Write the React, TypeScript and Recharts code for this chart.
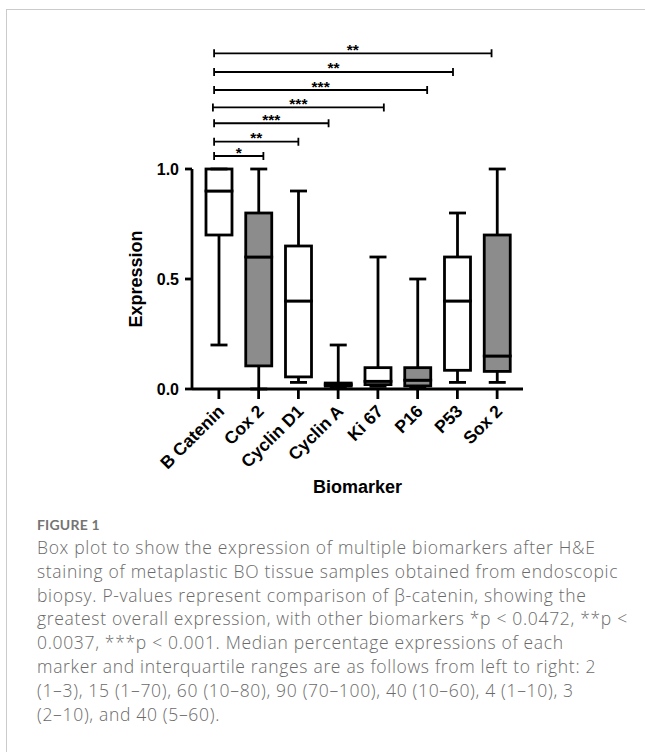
import React from 'react';
import {
  ComposedChart,
  Bar,
  XAxis,
  YAxis,
  ReferenceLine,
} from 'recharts';

// box plot values (fraction of cells expressing)
const categories = ['B Catenin', 'Cox 2', 'Cyclin D1', 'Cyclin A', 'Ki 67', 'P16', 'P53', 'Sox 2'];
const mins = [0.2, 0.0, 0.03, 0.005, 0.012, 0.005, 0.03, 0.03];
const q1s = [0.7, 0.105, 0.055, 0.013, 0.02, 0.014, 0.085, 0.08];
const medians = [0.9, 0.6, 0.4, 0.02, 0.035, 0.04, 0.4, 0.15];
const q3s = [1.0, 0.8, 0.65, 0.027, 0.097, 0.097, 0.6, 0.7];
const maxs = [1.0, 1.0, 0.9, 0.2, 0.6, 0.5, 0.8, 1.0];
const shaded = [false, true, false, false, false, true, false, true];

// significance brackets: B Catenin vs others (x in category index units, y in expression units)
const sigStarts = [-0.12, -0.12, -0.12, -0.15, -0.12, -0.12, -0.12];
const sigEnds = [6.86, 5.89, 5.24, 4.15, 2.76, 2.0, 1.12];
const sigLevels = [1.526, 1.441, 1.359, 1.28, 1.208, 1.124, 1.059];
const sigStars = ['**', '**', '***', '***', '***', '**', '*'];

const yTicks = [0, 0.5, 1.0];
const xTicks = categories.map((_, i) => i);

const caption = [
  'Box plot to show the expression of multiple biomarkers after H&E',
  'staining of metaplastic BO tissue samples obtained from endoscopic',
  'biopsy. P-values represent comparison of \u03b2-catenin, showing the',
  'greatest overall expression, with other biomarkers *p < 0.0472, **p <',
  '0.0037, ***p < 0.001. Median percentage expressions of each',
  'marker and interquartile ranges are as follows from left to right: 2',
  '(1\u20133), 15 (1\u201370), 60 (10\u201380), 90 (70\u2013100), 40 (10\u201360), 4 (1\u201310), 3',
  '(2\u201310), and 40 (5\u201360).',
];

const data = categories.map((name, i) => ({
  idx: i,
  name,
  base: mins[i],
  lowWhisker: q1s[i] - mins[i],
  lowBox: medians[i] - q1s[i],
  highBox: q3s[i] - medians[i],
  highWhisker: maxs[i] - q3s[i],
  fill: shaded[i] ? '#8c8c8c' : '#ffffff',
}));

const INK = '#000';
const SW = 2.8;
const CAP = 17;
const FONT = '"Liberation Sans", Arial, Helvetica, sans-serif';

const Whisker = (capAt: 'top' | 'bottom') => (props: any) => {
  const { x, y, width, height } = props;
  const cx = x + width / 2;
  const capY = capAt === 'top' ? y : y + height;
  return (
    <g>
      <line x1={cx} x2={cx} y1={y} y2={y + height} stroke={INK} strokeWidth={SW} />
      <line x1={cx - CAP / 2} x2={cx + CAP / 2} y1={capY} y2={capY} stroke={INK} strokeWidth={SW} />
    </g>
  );
};

const BoxPart = (props: any) => {
  const { x, y, width, height, payload } = props;
  return (
    <rect
      x={x}
      y={y}
      width={width}
      height={Math.max(height, 0)}
      fill={payload.fill}
      stroke={INK}
      strokeWidth={SW}
    />
  );
};

const Bracket = (props: any) => {
  const { x1, y1, x2 } = props;
  const h = 4;
  return (
    <path
      d={`M${x1},${y1 - h}V${y1 + h}M${x1},${y1}H${x2}M${x2},${y1 - h}V${y1 + h}`}
      stroke={INK}
      strokeWidth={1.8}
      fill="none"
    />
  );
};

const CategoryTick = (props: any) => {
  const { x, y, payload } = props;
  return (
    <g transform={`translate(${x + 2},${y + 7})`}>
      <text
        transform="rotate(-45)"
        textAnchor="end"
        dy="0.35em"
        fontSize={17.5}
        fontWeight="bold"
        fontFamily={FONT}
        fill={INK}
      >
        {categories[payload.value]}
      </text>
    </g>
  );
};

export default function App() {
  return (
    <div style={{ position: 'absolute', left: 0, top: 0, width: 645, height: 752, background: '#fff' }}>
      <div
        style={{
          position: 'absolute',
          left: 6,
          top: 9,
          right: 0,
          bottom: 0,
          borderLeft: '1px solid #cbcbcb',
          borderTop: '1px solid #cbcbcb',
        }}
      />
      <div style={{ position: 'absolute', left: 0, top: 0 }}>
        <ComposedChart
          width={645}
          height={500}
          data={data}
          margin={{ top: 169, right: 122, bottom: 1, left: 132 }}
          style={{ fontFamily: FONT }}
        >
          <XAxis
            dataKey="idx"
            type="number"
            domain={[-0.676, 7.651]}
            allowDataOverflow
            ticks={xTicks}
            height={110}
            tick={<CategoryTick />}
            tickSize={10}
            interval={0}
            axisLine={{ stroke: INK, strokeWidth: SW }}
            tickLine={{ stroke: INK, strokeWidth: SW }}
            label={{
              value: 'Biomarker',
              position: 'insideBottom',
              offset: 6,
              style: { fontSize: 18, fontWeight: 'bold', fill: INK, fontFamily: FONT },
            }}
          />
          <YAxis
            width={60}
            domain={[0, 1]}
            ticks={yTicks}
            tickFormatter={(v: number) => v.toFixed(1)}
            tickSize={7}
            tickMargin={6}
            axisLine={{ stroke: INK, strokeWidth: SW }}
            tickLine={{ stroke: INK, strokeWidth: SW }}
            tick={{ fontSize: 16, fontWeight: 'bold', fill: INK, fontFamily: FONT }}
            label={{
              value: 'Expression',
              angle: -90,
              position: 'insideLeft',
              offset: 3.5,
              style: { textAnchor: 'middle', fontSize: 18, fontWeight: 'bold', fill: INK, fontFamily: FONT },
            }}
          />

          <Bar dataKey="base" stackId="box" barSize={26} fill="none" isAnimationActive={false} shape={() => <g />} />
          <Bar dataKey="lowWhisker" stackId="box" barSize={26} isAnimationActive={false} shape={Whisker('bottom')} />
          <Bar dataKey="lowBox" stackId="box" barSize={26} isAnimationActive={false} shape={BoxPart} />
          <Bar dataKey="highBox" stackId="box" barSize={26} isAnimationActive={false} shape={BoxPart} />
          <Bar dataKey="highWhisker" stackId="box" barSize={26} isAnimationActive={false} shape={Whisker('top')} />

          {sigLevels.map((lvl, i) => (
            <ReferenceLine
              key={i}
              segment={[
                { x: sigStarts[i], y: lvl },
                { x: sigEnds[i], y: lvl },
              ]}
              ifOverflow="visible"
              shape={Bracket}
              label={{
                value: sigStars[i],
                position: 'top',
                offset: -1.5,
                style: { fontSize: 15.5, fontWeight: 'bold', fill: INK, fontFamily: FONT },
              }}
            />
          ))}
        </ComposedChart>
      </div>

      <div
        style={{
          position: 'absolute',
          left: 37,
          top: 516,
          fontFamily: 'Lato, "Open Sans", sans-serif',
          fontSize: 14,
          fontWeight: 'bold',
          color: '#747474',
          letterSpacing: 0.2,
          lineHeight: '18px',
        }}
      >
        FIGURE 1
      </div>
      <div
        style={{
          position: 'absolute',
          left: 37,
          top: 536,
          fontFamily: '"Open Sans", sans-serif',
          fontSize: 17.5,
          fontWeight: 300,
          color: '#6a6a6a',
          lineHeight: '23.8px',
          letterSpacing: 0.68,
          whiteSpace: 'nowrap',
        }}
      >
        {caption.map((line, i) => (
          <div key={i}>{line}</div>
        ))}
      </div>
    </div>
  );
}
